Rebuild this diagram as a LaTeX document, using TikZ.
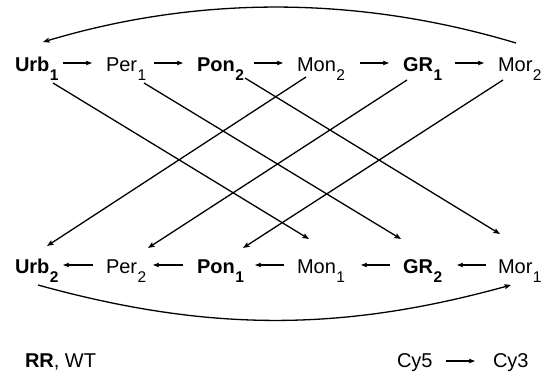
\documentclass[tikz,border=0pt]{standalone}
\usepackage{fontspec}
\setmainfont{Liberation Sans}
\usetikzlibrary{arrows.meta}
\newcommand\subx[1]{\kern0.5pt\raisebox{-9.5pt}{\fontsize{15.5}{18}\selectfont #1}}
\begin{document}
\begin{tikzpicture}[x=1pt,y=-1pt,
  lbl/.style={anchor=base west,inner sep=0pt,outer sep=0pt,font=\fontsize{20}{24}\selectfont},
  harrow/.style={line width=1.1pt,-{Stealth[length=6pt,width=4.5pt,inset=1pt]}},
  darrow/.style={line width=1.3pt,-{Stealth[length=6.5pt,width=5pt,inset=1pt]}},
  arc/.style={line width=1.3pt,-{Stealth[length=6.5pt,width=5pt,inset=1pt]}}]
\useasboundingbox (0,0) rectangle (548,375);
% top row
\node[lbl] (u1)  at (15,71)  {\textbf{Urb\subx{1}}};
\node[lbl] (p1)  at (106,71) {Per\subx{1}};
\node[lbl] (po2) at (197,71) {\textbf{Pon\subx{2}}};
\node[lbl] (m2)  at (297,71) {Mon\subx{2}};
\node[lbl] (g1)  at (403,71) {\textbf{GR\subx{1}}};
\node[lbl] (mo2) at (498,71) {Mor\subx{2}};
% bottom row
\node[lbl] (u2)  at (15,273)  {\textbf{Urb\subx{2}}};
\node[lbl] (p2)  at (106,273) {Per\subx{2}};
\node[lbl] (po1) at (197,273) {\textbf{Pon\subx{1}}};
\node[lbl] (m1)  at (297,273) {Mon\subx{1}};
\node[lbl] (g2)  at (403,273) {\textbf{GR\subx{2}}};
\node[lbl] (mo1) at (498,273) {Mor\subx{1}};
% legend
\node[lbl] (rr)  at (25,367)  {\textbf{RR}, WT};
\node[lbl] (cy5) at (397,367) {Cy5};
\node[lbl] (cy3) at (493,367) {Cy3};
% top horizontal arrows
\draw[harrow] ([shift={(-43,-8)}]p1.base west)  -- ([shift={(-14,-8)}]p1.base west);
\draw[harrow] ([shift={(-43,-8)}]po2.base west) -- ([shift={(-14,-8)}]po2.base west);
\draw[harrow] ([shift={(-43,-8)}]m2.base west)  -- ([shift={(-14,-8)}]m2.base west);
\draw[harrow] ([shift={(-43,-8)}]g1.base west)  -- ([shift={(-14,-8)}]g1.base west);
\draw[harrow] ([shift={(-43,-8)}]mo2.base west) -- ([shift={(-14,-8)}]mo2.base west);
% bottom horizontal arrows (leftwards)
\draw[harrow] ([shift={(-13,-8)}]p2.base west)  -- ([shift={(-43,-8)}]p2.base west);
\draw[harrow] ([shift={(-14,-8)}]po1.base west) -- ([shift={(-44,-8)}]po1.base west);
\draw[harrow] ([shift={(-13,-8)}]m1.base west)  -- ([shift={(-42,-8)}]m1.base west);
\draw[harrow] ([shift={(-13,-8)}]g2.base west)  -- ([shift={(-42,-8)}]g2.base west);
\draw[harrow] ([shift={(-12,-8)}]mo1.base west) -- ([shift={(-41,-8)}]mo1.base west);
% legend arrow
\draw[harrow] ([shift={(49,-6)}]cy5.base west) -- ([shift={(-18,-6)}]cy3.base west);
% diagonals
\draw[darrow] ([shift={(38,12)}]u1.base west)  -- ([shift={(12,-34)}]m1.base west);
\draw[darrow] ([shift={(38,12)}]p1.base west)  -- ([shift={(-2,-34)}]g2.base west);
\draw[darrow] ([shift={(48,7)}]po2.base west)  -- ([shift={(2,-39)}]mo1.base west);
\draw[darrow] ([shift={(9,6)}]m2.base west)    -- ([shift={(32,-27)}]u2.base west);
\draw[darrow] ([shift={(4,9)}]g1.base west)    -- ([shift={(42,-25)}]p2.base west);
\draw[darrow] ([shift={(5,9)}]mo2.base west)   -- ([shift={(46,-25)}]po1.base west);
% arcs
\draw[arc] ([shift={(18,-28)}]mo2.base west) .. controls +(-157,-47) and +(157,-47) .. ([shift={(28,-29)}]u1.base west);
\draw[arc] ([shift={(23,12)}]u2.base west) .. controls +(170,47) and +(-170,47) .. ([shift={(13,12)}]mo1.base west);
\end{tikzpicture}
\end{document}
